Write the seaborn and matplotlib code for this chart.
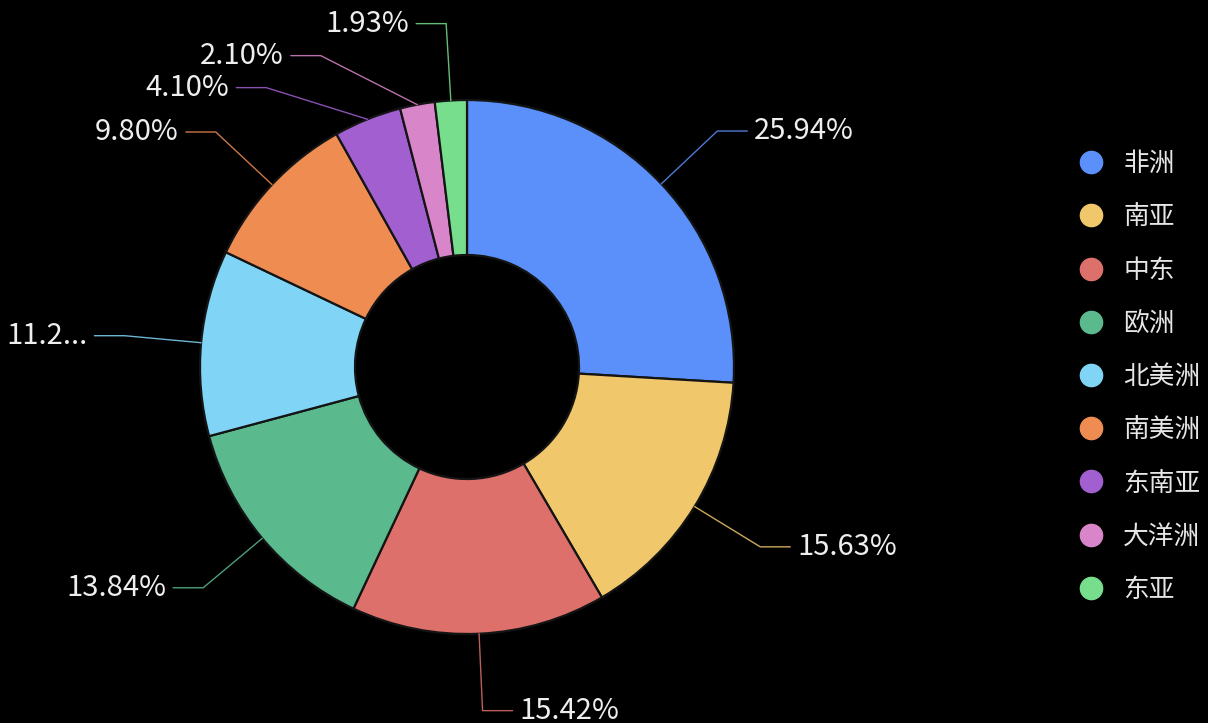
import numpy as np
import matplotlib
matplotlib.use('Agg')
import matplotlib.pyplot as plt
import seaborn as sns
from matplotlib.lines import Line2D

regions = ['非洲', '南亚', '中东', '欧洲', '北美洲', '南美洲', '东南亚', '大洋洲', '东亚']
shares = [25.94, 15.63, 15.42, 13.84, 11.24, 9.80, 4.10, 2.10, 1.93]
colors = ['#5b8ff9', '#f0c76a', '#dd706a', '#5bb98e', '#80d5f6',
          '#ee8c52', '#a15fd0', '#d985c9', '#76de8d']

sns.set_theme(style='dark', rc={'axes.facecolor': 'black',
                                'figure.facecolor': 'black',
                                'savefig.facecolor': 'black'})
plt.rcParams['font.family'] = ['Noto Sans CJK SC', 'DejaVu Sans']

W, H = 1208, 723
fig = plt.figure(figsize=(W / 100, H / 100), dpi=100)
ax = fig.add_axes([0, 0, 1, 1])

# pixel units: centre of the ring and its radii
cx, cy = 467, H - 367
R, r_in = 267, 112
R2 = 344          # where the leader line bends
seg = 30          # horizontal part of the leader line
gap = 32          # min vertical distance between labels

wedges, _ = ax.pie(shares, colors=colors, radius=R, center=(cx, cy),
                   startangle=90, counterclock=False,
                   wedgeprops=dict(width=R - r_in, edgecolor='#141414', linewidth=1.6))
ax.set_xlim(0, W)
ax.set_ylim(0, H)
ax.set_aspect('equal')
ax.axis('off')

# label positions, echarts-like: push overlapping labels down on each side
items = []
for w, v, c in zip(wedges, shares, colors):
    a = np.deg2rad((w.theta1 + w.theta2) / 2)
    side = 1 if np.cos(a) >= 0 else -1
    items.append(dict(
        p0=(cx + R * np.cos(a), cy + R * np.sin(a)),
        x=cx + R2 * np.cos(a), y=cy + R2 * np.sin(a),
        side=side, color=c, text=f'{v:.2f}%', moved=False))

for s in (1, -1):
    group = sorted([it for it in items if it['side'] == s], key=lambda it: -it['y'])
    prev = None
    for it in group:
        if prev is not None and it['y'] > prev - gap:
            it['y'] = prev - gap
            it['moved'] = True
        prev = it['y']

renderer = fig.canvas.get_renderer()
for it in items:
    s = it['side']
    ex, ey = it['x'], it['y']
    dy = ey - cy
    if it['moved'] and abs(dy) < R2:
        ex = cx + s * np.sqrt(R2 ** 2 - dy ** 2)
    x1 = ex + s * seg
    ax.plot([it['p0'][0], ex, x1], [it['p0'][1], ey, ey],
            color=it['color'], lw=1, alpha=0.85, solid_joinstyle='miter')
    tx = x1 + s * 7
    t = ax.text(tx, ey, it['text'], ha='left' if s > 0 else 'right', va='center',
                color='#eeeeee', fontsize=21, fontweight='light')
    # truncate with an ellipsis if it runs off the figure
    avail = (tx - 6) if s < 0 else (W - 6 - tx)
    base = it['text']
    while t.get_window_extent(renderer).width > avail and len(base) > 1:
        base = base[:-1]
        t.set_text(base + '...')

handles = [Line2D([0], [0], marker='o', ls='none', markersize=16,
                  markerfacecolor=c, markeredgecolor=c) for c in colors]
leg = ax.legend(handles, regions, loc='center left',
                bbox_to_anchor=(1078 / W, (H - 377) / H),
                bbox_transform=fig.transFigure, frameon=False,
                fontsize=18.5, labelcolor='#e6e6e6', handlelength=1.0,
                handletextpad=0.76, labelspacing=1.06, borderpad=0, borderaxespad=0)

fig.savefig('out.png', dpi=100, facecolor='black')
